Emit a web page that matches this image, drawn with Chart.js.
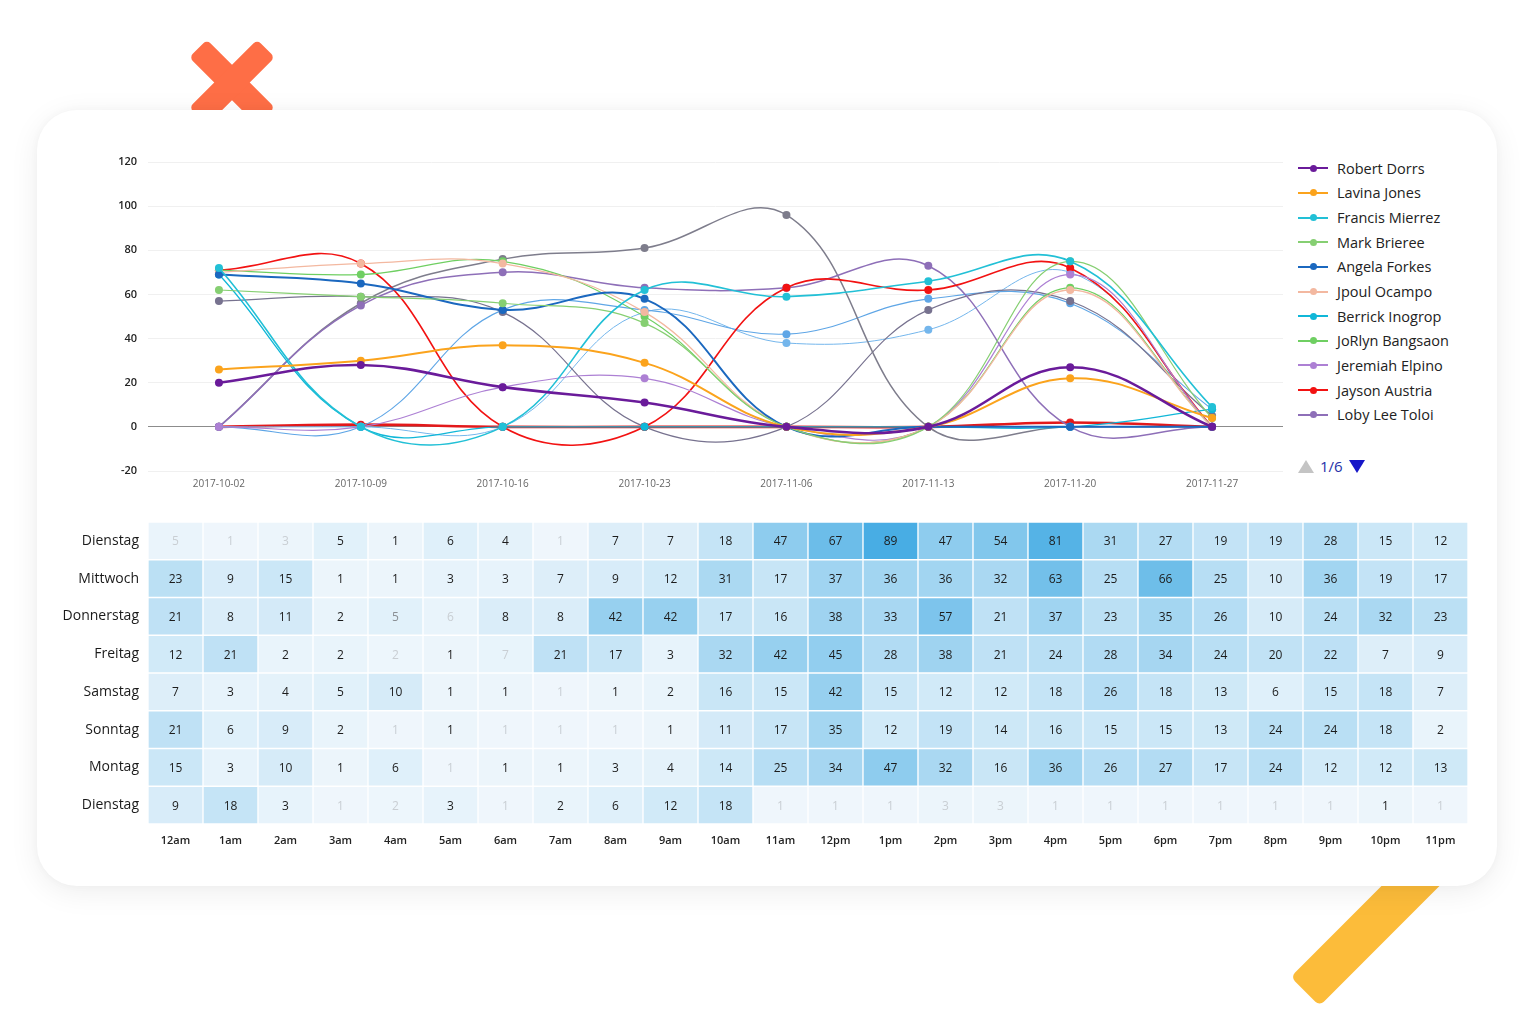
<!DOCTYPE html>
<html><head><meta charset="utf-8">
<script src="https://cdn.jsdelivr.net/npm/chart.js@4.4.1/dist/chart.umd.min.js"></script>
<style>
html,body{margin:0;padding:0;background:#fff;width:1536px;height:1024px;overflow:hidden;font-family:'Open Sans',sans-serif;}
#xa,#xb{position:absolute;left:184px;top:70px;width:96px;height:25px;background:#fe6e46;border-radius:5px;}
#xa{transform:rotate(45deg)} #xb{transform:rotate(-45deg)}
#ybar{position:absolute;left:1272px;top:891px;width:226px;height:41px;background:#fcbc3a;border-radius:6px;transform:rotate(-45deg);}
#card{position:absolute;left:37px;top:110px;width:1460px;height:776px;background:#fff;border-radius:40px;box-shadow:0 6px 30px rgba(0,0,0,0.07),0 0 8px rgba(0,0,0,0.03);}
#lineWrap{position:absolute;left:50px;top:150px;width:1240px;height:350px;}
#heatWrap{position:absolute;left:40px;top:515px;width:1440px;height:340px;}
#legend{position:absolute;left:1298px;top:156px;}
.li{height:24.65px;display:flex;align-items:center;font-size:14.5px;color:#222;white-space:nowrap;}
.mk{position:relative;width:30px;height:2px;margin-right:9px;}
.mk i{position:absolute;left:12px;top:-2.5px;width:7px;height:7px;border-radius:50%;}
#pager{position:absolute;left:1298px;top:456px;height:20px;display:flex;align-items:center;font-size:15px;color:#2530a8;}
.up{width:0;height:0;border-left:8px solid transparent;border-right:8px solid transparent;border-bottom:13px solid #c4c4c4;margin-right:6px;}
.dn{width:0;height:0;border-left:8px solid transparent;border-right:8px solid transparent;border-top:13px solid #1616c8;margin-left:6px;}
</style></head>
<body>
<div id="xa"></div><div id="xb"></div>
<div id="ybar"></div>
<div id="card"></div>
<div id="lineWrap"><canvas id="lineChart"></canvas></div>
<div id="legend"></div>
<div id="pager"><span class="up"></span><span>1/6</span><span class="dn"></span></div>
<div id="heatWrap"><canvas id="heatChart"></canvas></div>
<script>
// ---------- line chart data ----------
const weeks = ['2017-10-02','2017-10-09','2017-10-16','2017-10-23','2017-11-06','2017-11-13','2017-11-20','2017-11-27'];
const legendNames = ['Robert Dorrs','Lavina Jones','Francis Mierrez','Mark Brieree','Angela Forkes','Jpoul Ocampo','Berrick Inogrop','JoRlyn Bangsaon','Jeremiah Elpino','Jayson Austria','Loby Lee Toloi'];
const robertDorrs    = [20, 28, 18, 11, 0, 0, 27, 0];
const lavinaJones    = [26, 30, 37, 29, 0, 0, 22, 4];
const francisMierrez = [72, 0, 0, 62, 59, 66, 75, 9];
const markBrieree    = [62, 59, 56, 47, 0, 0, 75, 4];
const angelaForkes   = [69, 65, 53, 58, 0, 0, 0, 0];
const jpoulOcampo    = [70, 74, 74, 52, 0, 0, 62, 0];
const berrickInogrop = [69, 0, 0, 0, 0, 0, 0, 8];
const jorlynBangsaon = [71, 69, 75, 50, 0, 0, 63, 0];
const jeremiahElpino = [0, 0, 18, 22, 0, 0, 69, 0];
const jaysonAustria  = [71, 74, 0, 0, 63, 62, 72, 0];
const lobyLeeToloi   = [0, 55, 70, 63, 63, 73, 0, 0];
// further series (other legend pages)
const otherA = [0, 56, 76, 81, 96, 0, 0, 0];
const otherB = [57, 59, 52, 0, 0, 53, 57, 5];
const otherC = [0, 0, 53, 53, 42, 58, 56, 8];
const otherD = [0, 0, 0, 52, 38, 44, 70, 0];
const otherE = [0, 1, 0, 0, 0, 0, 2, 0];
const yTicks = [-20, 0, 20, 40, 60, 80, 100, 120];

// ---------- heatmap data ----------
const hours = ['12am','1am','2am','3am','4am','5am','6am','7am','8am','9am','10am','11am','12pm','1pm','2pm','3pm','4pm','5pm','6pm','7pm','8pm','9pm','10pm','11pm'];
const days = ['Dienstag','Mittwoch','Donnerstag','Freitag','Samstag','Sonntag','Montag','Dienstag'];
const rowDienstag1 = [5,1,3,5,1,6,4,1,7,7,18,47,67,89,47,54,81,31,27,19,19,28,15,12];
const rowMittwoch  = [23,9,15,1,1,3,3,7,9,12,31,17,37,36,36,32,63,25,66,25,10,36,19,17];
const rowDonnerstag= [21,8,11,2,5,6,8,8,42,42,17,16,38,33,57,21,37,23,35,26,10,24,32,23];
const rowFreitag   = [12,21,2,2,2,1,7,21,17,3,32,42,45,28,38,21,24,28,34,24,20,22,7,9];
const rowSamstag   = [7,3,4,5,10,1,1,1,1,2,16,15,42,15,12,12,18,26,18,13,6,15,18,7];
const rowSonntag   = [21,6,9,2,1,1,1,1,1,1,11,17,35,12,19,14,16,15,15,13,24,24,18,2];
const rowMontag    = [15,3,10,1,6,1,1,1,3,4,14,25,34,47,32,16,36,26,27,17,24,12,12,13];
const rowDienstag2 = [9,18,3,1,2,3,1,2,6,12,18,1,1,1,3,3,1,1,1,1,1,1,1,1];
const fadedCells = [[0,0],[0,1],[0,2],[0,7],[2,5],[3,4],[3,6],[4,7],[5,4],[5,6],[5,7],[5,8],[6,5],
  [7,3],[7,4],[7,6],[7,11],[7,12],[7,13],[7,14],[7,15],[7,16],[7,17],[7,18],[7,19],[7,20],[7,21],[7,23]];
const halfFadedCells = [[2,4]];

// ---------- styles ----------
const lineSeries = [
  {label:legendNames[0], data:robertDorrs,    color:'#6a1b9a', w:2.6, legend:true},
  {label:legendNames[1], data:lavinaJones,    color:'#fba31c', w:2,   legend:true},
  {label:legendNames[2], data:francisMierrez, color:'#22c0d6', w:1.6, legend:true},
  {label:legendNames[3], data:markBrieree,    color:'#86cf72', w:1.2, legend:true},
  {label:legendNames[4], data:angelaForkes,   color:'#1b68bf', w:2,   legend:true},
  {label:legendNames[5], data:jpoulOcampo,    color:'#f3b8a0', w:1.3, legend:true},
  {label:legendNames[6], data:berrickInogrop, color:'#10b7d8', w:1.3, legend:true},
  {label:legendNames[7], data:jorlynBangsaon, color:'#6fcf62', w:1.2, legend:true},
  {label:legendNames[8], data:jeremiahElpino, color:'#ad80d4', w:1.2, legend:true},
  {label:legendNames[9], data:jaysonAustria,  color:'#f21212', w:1.7, legend:true},
  {label:legendNames[10],data:lobyLeeToloi,   color:'#8e6fb8', w:1.5, legend:true},
  {label:'A', data:otherA, color:'#7e7d8c', w:1.5},
  {label:'B', data:otherB, color:'#77728f', w:1.2},
  {label:'C', data:otherC, color:'#5fa6e6', w:1.1},
  {label:'D', data:otherD, color:'#74b6ec', w:1.0},
  {label:'E', data:otherE, color:'#e3191b', w:2.6}
];

// legend (HTML)
const leg = document.getElementById('legend');
lineSeries.filter(s => s.legend).forEach(s => {
  const d = document.createElement('div'); d.className = 'li';
  d.innerHTML = '<span class="mk" style="background:'+s.color+'"><i style="background:'+s.color+'"></i></span><span>'+s.label+'</span>';
  leg.appendChild(d);
});

function noPad(s) { s.paddingTop = 0; s.paddingBottom = 0; s.paddingLeft = 0; s.paddingRight = 0; }

new Chart(document.getElementById('lineChart'), {
  type: 'line',
  data: {
    labels: weeks,
    datasets: lineSeries.map(s => ({
      label: s.label, data: s.data, borderColor: s.color, backgroundColor: s.color,
      borderWidth: s.w, tension: 0.4, fill: false,
      pointRadius: 4, pointHoverRadius: 4, pointBorderWidth: 0, pointBackgroundColor: s.color
    }))
  },
  options: {
    responsive: true, maintainAspectRatio: false, animation: false,
    layout: {padding: {top: 12, right: 7, left: 0, bottom: 0}},
    plugins: {legend: {display: false}, tooltip: {enabled: false}},
    scales: {
      x: {
        type: 'category', offset: true,
        grid: {display: false, drawTicks: false}, border: {display: false},
        ticks: {color: '#666', font: {family: 'Open Sans', size: 10}, padding: 7, maxRotation: 0},
        afterFit(s) { s.height = 29; noPad(s); }
      },
      y: {
        min: -20, max: 120,
        afterBuildTicks(s) { s.ticks = yTicks.map(v => ({value: v})); },
        grid: {color: c => (c.tick && c.tick.value === 0) ? '#8c8c8c' : '#f0f0f0', lineWidth: 1, drawTicks: false},
        border: {display: false},
        ticks: {color: '#222', font: {family: 'Open Sans', size: 11, weight: '600'}, padding: 11},
        afterFit(s) { s.width = 98; noPad(s); }
      }
    }
  }
});

// ---------- heatmap via floating bars ----------
const heatRows = [rowDienstag1,rowMittwoch,rowDonnerstag,rowFreitag,rowSamstag,rowSonntag,rowMontag,rowDienstag2];
const inList = (list, r, c) => list.some(p => p[0] === r && p[1] === c);
const maxVal = Math.max(...heatRows.flat());
function cellColor(v, faded) {
  let t = Math.pow(Math.min(v / maxVal, 1), 0.85);
  if (faded) t *= 0.4;
  const a = [240,247,252], b = [72,173,228];
  const m = a.map((x,i) => Math.round(x + (b[i]-x)*t));
  return 'rgb(' + m.join(',') + ')';
}
const cellText = {
  id: 'cellText',
  afterDatasetsDraw(chart) {
    const ctx = chart.ctx;
    ctx.save();
    ctx.font = '12px "Open Sans"';
    ctx.textAlign = 'center'; ctx.textBaseline = 'middle';
    chart.data.datasets.forEach((ds, r) => {
      chart.getDatasetMeta(r).data.forEach((el, c) => {
        ctx.fillStyle = inList(fadedCells, r, c) ? '#c9ced3' : (inList(halfFadedCells, r, c) ? '#8a8f94' : '#1c1c1c');
        ctx.fillText(String(heatRows[r][c]), el.x, (el.y + el.base) / 2 + 1);
      });
    });
    ctx.restore();
  }
};
new Chart(document.getElementById('heatChart'), {
  type: 'bar',
  data: {
    labels: hours,
    datasets: heatRows.map((row, r) => ({
      label: days[r],
      data: row.map(() => [r, r + 1]),
      backgroundColor: row.map((v, c) => cellColor(v, inList(fadedCells, r, c))),
      borderColor: '#ffffff', borderWidth: 1, borderSkipped: false,
      grouped: false, barPercentage: 1, categoryPercentage: 1
    }))
  },
  options: {
    responsive: true, maintainAspectRatio: false, animation: false,
    layout: {padding: {top: 7, right: 12, left: 0, bottom: 0}},
    plugins: {legend: {display: false}, tooltip: {enabled: false}},
    scales: {
      x: {
        grid: {display: false, drawTicks: false}, border: {display: false},
        ticks: {color: '#222', font: {family: 'Open Sans', size: 11, weight: '600'}, padding: 10, maxRotation: 0, autoSkip: false},
        afterFit(s) { s.height = 31; noPad(s); }
      },
      y: {
        min: 0, max: 8, reverse: true,
        afterBuildTicks(s) { s.ticks = days.map((d, i) => ({value: i + 0.5})); },
        grid: {display: false, drawTicks: false}, border: {display: false},
        ticks: {color: '#1a1a1a', font: {family: 'Open Sans', size: 14}, padding: 9, autoSkip: false, callback: (v, i) => days[i]},
        afterFit(s) { s.width = 108; noPad(s); }
      }
    }
  },
  plugins: [cellText]
});
</script>
</body></html>
